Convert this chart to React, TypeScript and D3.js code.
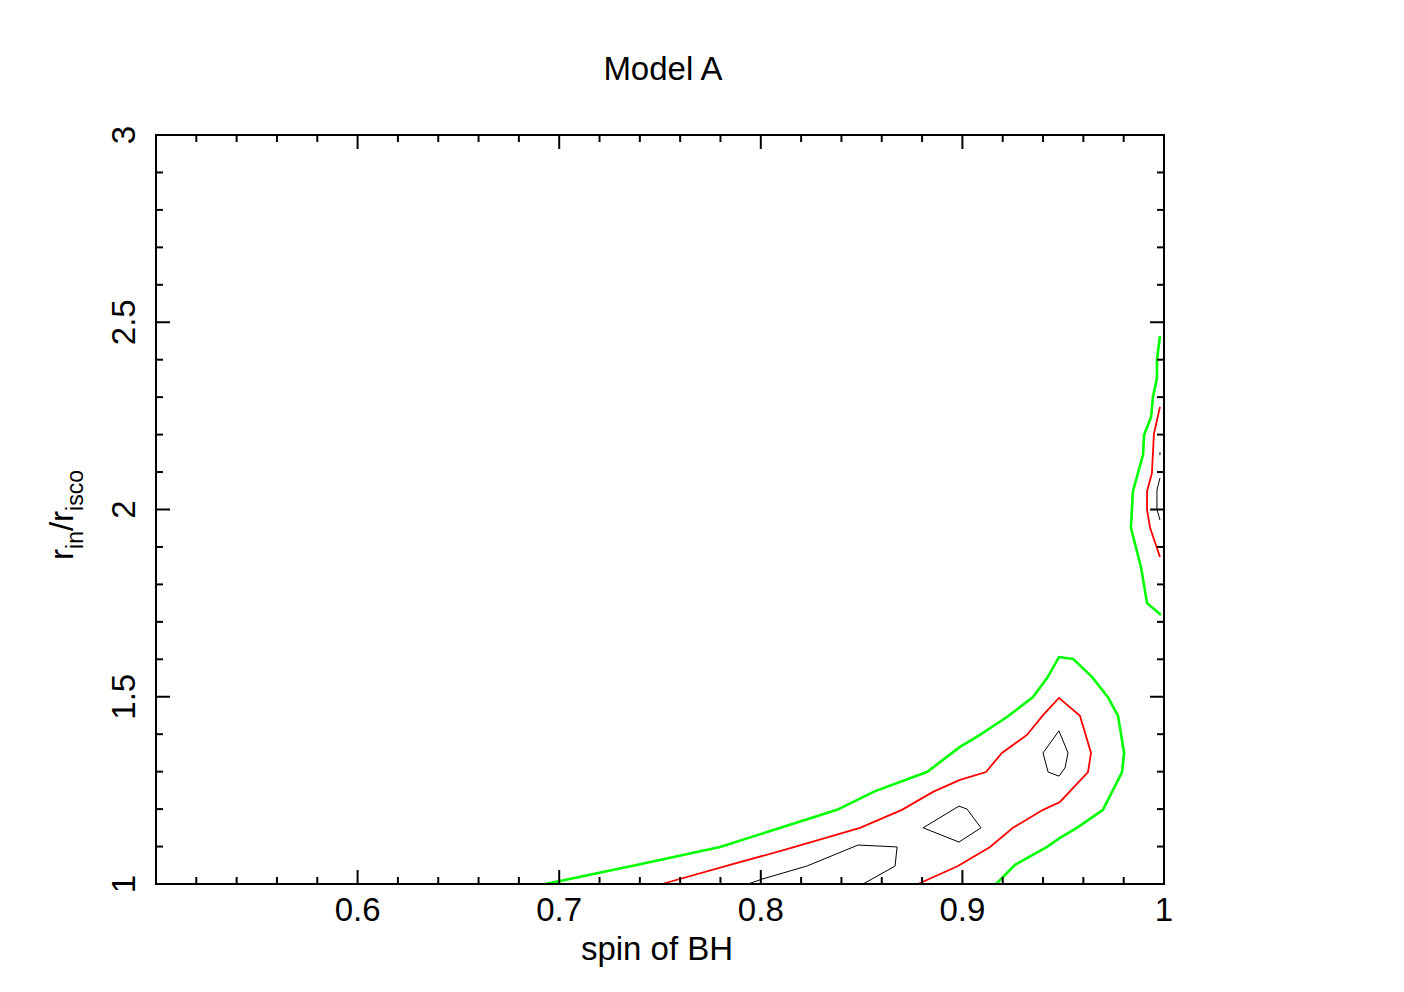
import React from "react";
import * as d3 from "d3";

// ---- data ----
const title = "Model A";
const xLabel = "spin of BH";
const xDomain: [number, number] = [0.5, 1.0];
const yDomain: [number, number] = [1.0, 3.0];
const xTickLabels = [0.6, 0.7, 0.8, 0.9, 1.0];
const yTickLabels = [1, 1.5, 2, 2.5, 3];

// outer (green) contour, lower island
const greenLower: [number, number][] = [
  [0.693, 1.0], [0.7004, 1.008], [0.7401, 1.053], [0.7798, 1.099], [0.8378, 1.198],
  [0.8567, 1.248], [0.8824, 1.299], [0.8988, 1.366], [0.9087, 1.398], [0.9221, 1.446],
  [0.935, 1.499], [0.942, 1.55], [0.9479, 1.606], [0.9549, 1.601], [0.9643, 1.553],
  [0.9722, 1.499], [0.9772, 1.449], [0.9802, 1.35], [0.9792, 1.299], [0.9697, 1.198],
  [0.9568, 1.15], [0.9484, 1.123], [0.942, 1.099], [0.9261, 1.051], [0.9167, 1.0],
];
// outer (green) contour, upper-right island
const greenUpper: [number, number][] = [
  [0.998, 2.463], [0.9965, 2.399], [0.9965, 2.351], [0.9945, 2.3], [0.9936, 2.247],
  [0.9901, 2.199], [0.9896, 2.146], [0.9846, 2.049], [0.9836, 1.951], [0.9886, 1.846],
  [0.9916, 1.75], [0.9985, 1.718],
];
// middle (red) contour
const redLower: [number, number][] = [
  [0.751, 1.0], [0.7847, 1.051], [0.813, 1.093], [0.8492, 1.15], [0.87, 1.198],
  [0.8854, 1.246], [0.8988, 1.278], [0.9117, 1.299], [0.9196, 1.35], [0.932, 1.398],
  [0.94, 1.451], [0.9479, 1.497], [0.9583, 1.449], [0.9638, 1.35], [0.9623, 1.299],
  [0.9484, 1.219], [0.94, 1.198], [0.9251, 1.15], [0.9137, 1.099], [0.8978, 1.048],
  [0.878, 1.0],
];
const redUpper: [number, number][] = [
  [0.998, 2.274], [0.995, 2.202], [0.994, 2.097], [0.9916, 2.049], [0.9916, 1.999],
  [0.9931, 1.951], [0.998, 1.873],
];
// inner (black) contours
const blackBottom: [number, number][] = [
  [0.7937, 1.0], [0.8006, 1.013], [0.8229, 1.048], [0.8482, 1.104], [0.8676, 1.099],
  [0.8666, 1.048], [0.8507, 1.0],
];
const blackLoopA: [number, number][] = [
  [0.8983, 1.208], [0.9023, 1.2], [0.9092, 1.15], [0.8983, 1.112], [0.8805, 1.15], [0.8983, 1.208],
];
const blackLoopB: [number, number][] = [
  [0.9479, 1.409], [0.9524, 1.35], [0.9509, 1.31], [0.9479, 1.288], [0.9425, 1.299],
  [0.94, 1.35], [0.9479, 1.409],
];
const blackUpper: [number, number][] = [
  [0.998, 2.084], [0.9965, 2.052], [0.9965, 2.001], [0.998, 1.972],
];
const blackUpperDash: [number, number][] = [
  [0.998, 2.153], [0.998, 2.145],
];

const W = 1404, H = 992;
const L = 156, R = 1164, T = 135, B = 884;
const FONT = "'Liberation Sans', Arial, Helvetica, sans-serif";

export default function App() {
  const x = d3.scaleLinear().domain(xDomain).range([L, R]);
  const y = d3.scaleLinear().domain(yDomain).range([B, T]);
  const line = d3.line<[number, number]>().x((d) => x(d[0])).y((d) => y(d[1]));

  const xMinor = d3.range(0, 26).map((i) => xDomain[0] + i * 0.02);
  const yMinor = d3.range(0, 21).map((i) => yDomain[0] + i * 0.1);
  const isMajX = (v: number) => Math.abs(v * 10 - Math.round(v * 10)) < 1e-6;
  const isMajY = (v: number) => Math.abs(v * 2 - Math.round(v * 2)) < 1e-6;

  const contours: { d: [number, number][]; c: string; w: number }[] = [
    { d: greenLower, c: "#00ff00", w: 2.6 },
    { d: greenUpper, c: "#00ff00", w: 2.6 },
    { d: redLower, c: "#ff0000", w: 1.8 },
    { d: redUpper, c: "#ff0000", w: 1.8 },
    { d: blackBottom, c: "#000000", w: 1 },
    { d: blackLoopA, c: "#000000", w: 1 },
    { d: blackLoopB, c: "#000000", w: 1 },
    { d: blackUpper, c: "#000000", w: 1 },
    { d: blackUpperDash, c: "#000000", w: 1 },
  ];

  return (
    <svg width={W} height={H} style={{ position: "absolute", left: 0, top: 0, background: "#fff" }}
      fontFamily={FONT}>
      <rect x={0} y={0} width={W} height={H} fill="#fff" />
      {/* contours */}
      <g fill="none" strokeLinejoin="miter">
        {contours.map((c, i) => (
          <path key={i} d={line(c.d) || ""} stroke={c.c} strokeWidth={c.w} />
        ))}
      </g>
      {/* ticks */}
      <g stroke="#000" strokeWidth={2}>
        {xMinor.map((v, i) => {
          const len = isMajX(v) ? 14 : 7;
          const px = x(v);
          return (
            <g key={"x" + i}>
              <line x1={px} x2={px} y1={B} y2={B - len} />
              <line x1={px} x2={px} y1={T} y2={T + len} />
            </g>
          );
        })}
        {yMinor.map((v, i) => {
          const len = isMajY(v) ? 14 : 7;
          const py = y(v);
          return (
            <g key={"y" + i}>
              <line x1={L} x2={L + len} y1={py} y2={py} />
              <line x1={R} x2={R - len} y1={py} y2={py} />
            </g>
          );
        })}
      </g>
      {/* frame */}
      <rect x={L} y={T} width={R - L} height={B - T} fill="none" stroke="#000" strokeWidth={2} />
      {/* x tick labels */}
      <g fontSize={33} textAnchor="middle" fill="#000">
        {xTickLabels.map((v) => (
          <text key={v} x={x(v)} y={921}>{String(v)}</text>
        ))}
      </g>
      {/* y tick labels */}
      <g fontSize={33} textAnchor="middle" fill="#000">
        {yTickLabels.map((v) => (
          <text key={v} transform={`translate(135,${y(v)}) rotate(-90)`}>{String(v)}</text>
        ))}
      </g>
      {/* axis titles */}
      <text x={657} y={960} fontSize={33} textAnchor="middle">{xLabel}</text>
      <text transform={`translate(73,${515}) rotate(-90)`} fontSize={33} textAnchor="middle">
        r<tspan fontSize={23} dy={10}>in</tspan>
        <tspan dy={-10}>/r</tspan>
        <tspan fontSize={23} dy={10}>isco</tspan>
      </text>
      <text x={663} y={80} fontSize={33} textAnchor="middle">{title}</text>
    </svg>
  );
}
